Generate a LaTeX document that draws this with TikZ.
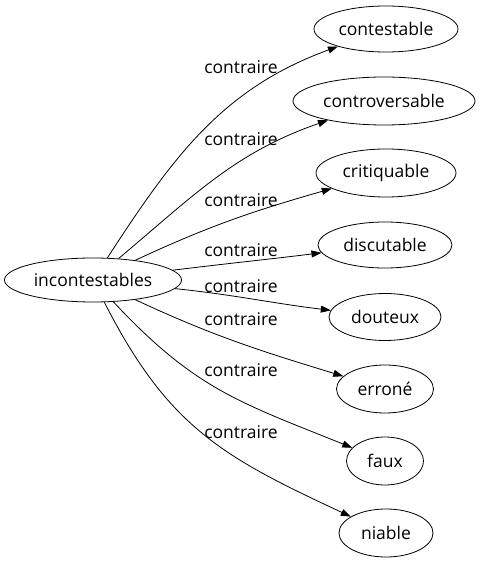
\documentclass[tikz,border=0pt]{standalone}
\usepackage{fontspec}
\setmainfont{Open Sans}
\usetikzlibrary{arrows.meta,shapes.geometric}

\begin{document}
\begin{tikzpicture}[x=1pt,y=1pt,
  word/.style={draw,ellipse,line width=0.8pt,inner sep=0pt,font=\fontsize{17.5}{20}\selectfont},
  rel/.style={line width=0.8pt,-{Triangle[length=10pt,width=7pt]}},
  lbl/.style={font=\fontsize{17.5}{20}\selectfont,inner sep=0pt}]
\useasboundingbox (0,0) rectangle (481,563);

\node[word,minimum width=177pt,minimum height=44pt] (incontestables) at (93,283) {incontestables};

\node[word,minimum width=144pt,minimum height=46pt] (contestable) at (386,534) {contestable};
\node[word,minimum width=182pt,minimum height=48pt] (controversable) at (384,462) {controversable};
\node[word,minimum width=140pt,minimum height=48pt] (critiquable) at (386,390) {critiquable};
\node[word,minimum width=134pt,minimum height=46pt] (discutable) at (385,318) {discutable};
\node[word,minimum width=112pt,minimum height=47pt] (douteux) at (385,246) {douteux};
\node[word,minimum width=97pt,minimum height=48pt] (errone) at (385,174) {erroné};
\node[word,minimum width=77pt,minimum height=48pt] (faux) at (385,102) {faux};
\node[word,minimum width=94pt,minimum height=48pt] (niable) at (386,30) {niable};

\draw[rel] (incontestables) to[out=57,in=200] (contestable);
\draw[rel] (incontestables) to[out=40,in=199] (controversable);
\draw[rel] (incontestables) to[out=25,in=196] (critiquable);
\draw[rel] (incontestables) to[out=7,in=187] (discutable);
\draw[rel] (incontestables) to[out=-6,in=173] (douteux);
\draw[rel] (incontestables) to[out=-25,in=163] (errone);
\draw[rel] (incontestables) to[out=-47,in=158,looseness=1.1] (faux);
\draw[rel] (incontestables) to[out=-63,in=155,looseness=1.1] (niable);

\node[lbl] (c1) at (241,496) {contraire};
\node[lbl] (c2) at (241,424) {contraire};
\node[lbl] (c3) at (241,363) {contraire};
\node[lbl] (c4) at (241,313) {contraire};
\node[lbl] (c5) at (241,277) {contraire};
\node[lbl] (c6) at (241,244) {contraire};
\node[lbl] (c7) at (241,193) {contraire};
\node[lbl] (c8) at (241,131) {contraire};

\end{tikzpicture}
\end{document}
